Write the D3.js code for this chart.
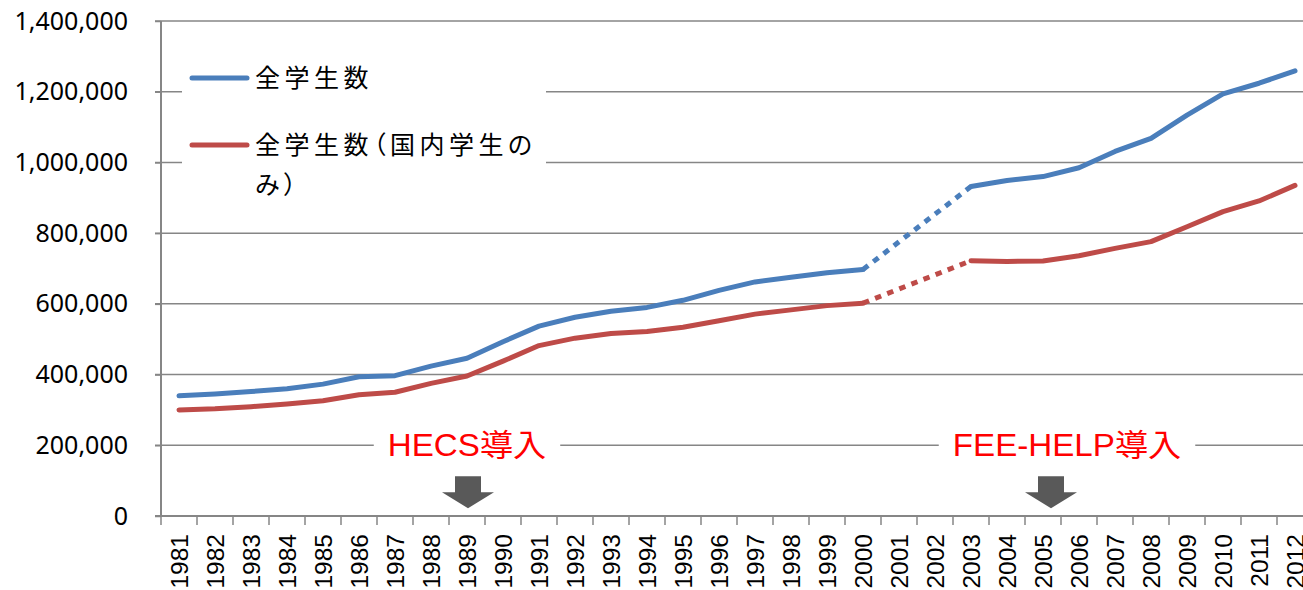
<!DOCTYPE html>
<html>
<head>
<meta charset="utf-8">
<script src="https://cdn.jsdelivr.net/npm/d3@7"></script>
<style>
  body { margin: 0; background: #fff; }
  svg { display: block; }
</style>
</head>
<body>
<div id="vis"></div>
<script>
// ---- data ----
const years = ["1981","1982","1983","1984","1985","1986","1987","1988","1989","1990",
  "1991","1992","1993","1994","1995","1996","1997","1998","1999","2000",
  "2001","2002","2003","2004","2005","2006","2007","2008","2009","2010","2011","2012"];

// 全学生数
const totalStudents = [340000, 345000, 352000, 360000, 373000, 394000, 397000, 424000, 446000, 493000,
  537000, 562000, 579000, 590000, 610000, 638000, 662000, 675000, 688000, 697000,
  null, null, 932000, 949000, 960000, 985000, 1031000, 1068000, 1134000, 1194000, 1224000, 1259000];

// 全学生数（国内学生のみ）
const domesticStudents = [300000, 303000, 309000, 317000, 326000, 343000, 350000, 375000, 396000, 438000,
  482000, 503000, 516000, 522000, 534000, 552000, 571000, 583000, 595000, 602000,
  null, null, 722000, 720000, 721000, 736000, 757000, 776000, 818000, 861000, 891000, 935000];

const yTicks = [0, 200000, 400000, 600000, 800000, 1000000, 1200000, 1400000];

const seriesNames = ["全学生数", "全学生数（国内学生の|み）"];

const annotations = [
  {year: "1989", label: "HECS導入"},
  {year: "2005", label: "FEE-HELP導入"}
];

// ---- layout ----
const W = 1303, H = 590;
const plotLeft = 161, band = 36, plotTop = 21, plotBottom = 516;
// horizontal nudges of arrow / label relative to the year's band centre
const arrowShift = {"1989": 1, "2005": 8};
const labelShift = {"1989": 0, "2005": 24};

const svg = d3.select("#vis").append("svg")
    .attr("width", W)
    .attr("height", H);

const x = d3.scaleBand()
    .domain(years)
    .range([plotLeft, plotLeft + band * years.length])
    .padding(0);

const y = d3.scaleLinear()
    .domain([0, 1400000])
    .range([plotBottom, plotTop]);

const cx = yr => x(yr) + x.bandwidth() / 2;

const gridColor = "#868686";
const colors = ["#4a7ebb", "#be4b48"];

////////// grid //////////
svg.append("g")
    .selectAll("line")
    .data(yTicks.filter(d => d > 0))
    .enter()
    .append("line")
    .attr("x1", plotLeft - 6)
    .attr("x2", x.range()[1])
    .attr("y1", d => y(d))
    .attr("y2", d => y(d))
    .attr("stroke", gridColor)
    .attr("stroke-width", 1.5);

////////// axes //////////
let yAxis = svg.append("g")
    .attr("transform", "translate(" + plotLeft + ",0)")
    .call(d3.axisLeft(y).tickValues(yTicks).tickSize(6).tickPadding(27)
        .tickFormat(d3.format(",")));
yAxis.select(".domain").attr("stroke", gridColor).attr("stroke-width", 2)
    .attr("d", "M0," + plotTop + "V" + plotBottom);
yAxis.selectAll(".tick line").attr("stroke", gridColor).attr("stroke-width", 1.5);
yAxis.selectAll(".tick text")
    .attr("font-family", "'Noto Sans', sans-serif")
    .attr("font-size", 25)
    .attr("fill", "#000");

let xg = svg.append("g");
xg.append("line")
    .attr("x1", plotLeft - 6).attr("x2", x.range()[1])
    .attr("y1", plotBottom).attr("y2", plotBottom)
    .attr("stroke", gridColor).attr("stroke-width", 2);
xg.selectAll(".xtick")
    .data(years.concat(["end"]))
    .enter()
    .append("line")
    .attr("class", "xtick")
    .attr("x1", (d, i) => plotLeft + band * i)
    .attr("x2", (d, i) => plotLeft + band * i)
    .attr("y1", plotBottom)
    .attr("y2", plotBottom + 9)
    .attr("stroke", gridColor)
    .attr("stroke-width", 1.5);
xg.selectAll(".xlabel")
    .data(years)
    .enter()
    .append("text")
    .attr("class", "xlabel")
    .attr("transform", d => "translate(" + cx(d) + "," + (plotBottom + 18) + ") rotate(-90)")
    .attr("text-anchor", "end")
    .attr("dy", "0.36em")
    .attr("font-family", "'Liberation Sans', Arial, sans-serif")
    .attr("font-size", 24.5)
    .text(d => d);

////////// legend //////////
let legend = svg.append("g");
legend.append("rect")
    .attr("x", 182).attr("y", 40)
    .attr("width", 364).attr("height", 165)
    .attr("fill", "#fff");

const legendRows = [78, 145];
seriesNames.forEach((name, i) => {
    legend.append("line")
        .attr("x1", 192).attr("x2", 247)
        .attr("y1", legendRows[i]).attr("y2", legendRows[i])
        .attr("stroke", colors[i])
        .attr("stroke-width", 5)
        .attr("stroke-linecap", "round");
    name.split("|").forEach((part, j) => {
        legend.append("text")
            .attr("x", 255)
            .attr("y", legendRows[i] + j * 40)
            .attr("dy", "0.36em")
            .attr("font-family", "'Noto Sans CJK JP', sans-serif")
            .attr("font-size", 25)
            .attr("letter-spacing", 4.5)
            .style("font-feature-settings", "'palt'")
            .text(part);
    });
});

////////// lines //////////
const series = [totalStudents, domesticStudents];

const line = d3.line()
    .defined(d => d.v !== null)
    .x(d => cx(d.year))
    .y(d => y(d.v));

series.forEach((vals, i) => {
    let pts = years.map((yr, k) => ({year: yr, v: vals[k]}));
    // solid segments
    svg.append("path")
        .datum(pts)
        .attr("d", line)
        .attr("fill", "none")
        .attr("stroke", colors[i])
        .attr("stroke-width", 5)
        .attr("stroke-linejoin", "round")
        .attr("stroke-linecap", "round");
    // dotted bridge across the missing years
    let known = pts.filter(d => d.v !== null);
    let gap = [];
    for (let k = 1; k < known.length; k++) {
        if (years.indexOf(known[k].year) - years.indexOf(known[k - 1].year) > 1) {
            gap = [known[k - 1], known[k]];
        }
    }
    svg.append("path")
        .datum(gap)
        .attr("d", d3.line().x(d => cx(d.year)).y(d => y(d.v)))
        .attr("fill", "none")
        .attr("stroke", colors[i])
        .attr("stroke-width", 5)
        .attr("stroke-dasharray", "6.5,6.5");
});

////////// annotations //////////
annotations.forEach(a => {
    let ax = cx(a.year) + arrowShift[a.year];
    let tx = cx(a.year) + labelShift[a.year];
    let g = svg.append("g");
    let t = g.append("text")
        .attr("transform", "translate(" + tx + "," + y(200000) + ") scale(1.07,1)")
        .attr("dy", "0.36em")
        .attr("text-anchor", "middle")
        .attr("font-family", "'Liberation Sans', 'Noto Sans CJK JP', sans-serif")
        .attr("font-size", 31)
        .attr("fill", "#ff0000")
        .text(a.label);
    let bb = t.node().getBBox();
    let bw = bb.width * 1.07;
    g.insert("rect", "text")
        .attr("x", tx - bw / 2 - 14).attr("y", y(200000) - 20)
        .attr("width", bw + 28).attr("height", 40)
        .attr("fill", "#fff");
    // block arrow pointing down
    let ay = y(200000) + 31;
    g.append("path")
        .attr("d", "M" + (ax - 13) + "," + ay + "H" + (ax + 13) + "V" + (ay + 16) +
            "H" + (ax + 26) + "L" + ax + "," + (ay + 32) + "L" + (ax - 26) + "," + (ay + 16) +
            "H" + (ax - 13) + "Z")
        .attr("fill", "#595959");
});
</script>
</body>
</html>
